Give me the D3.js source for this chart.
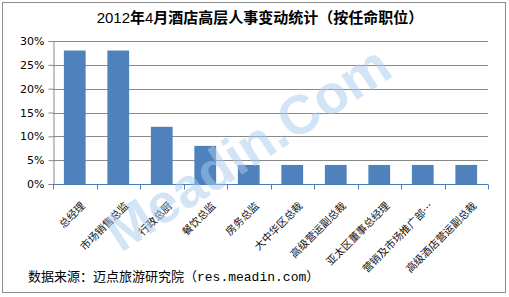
<!DOCTYPE html>
<html>
<head>
<meta charset="utf-8">
<script src="https://cdn.jsdelivr.net/npm/d3@7"></script>
<style>
  body { margin: 0; background: #fff; }
  svg text { font-family: "Noto Sans CJK SC", "DejaVu Sans", sans-serif; }
</style>
</head>
<body>
<div id="viz"></div>
<script>
var categories = ['总经理', '市场销售总监', '行政总厨', '餐饮总监', '房务总监',
  '大中华区总裁', '高级营运副总裁', '亚太区董事总经理', '营销及市场推广部…', '高级酒店营运副总裁'];
var shares = [0.28, 0.28, 0.12, 0.08, 0.04, 0.04, 0.04, 0.04, 0.04, 0.04];
var yTicks = [0, 0.05, 0.10, 0.15, 0.20, 0.25, 0.30];

var W = 509, H = 297;
var margin = { top: 41, right: 21, bottom: 113, left: 53 },
  width = W - margin.left - margin.right,
  height = H - margin.top - margin.bottom;

var svg = d3.select('#viz').append('svg')
  .attr('width', W)
  .attr('height', H);

// outer frame
svg.append('rect')
  .attr('x', 2.5).attr('y', 2.5)
  .attr('width', W - 6).attr('height', H - 7)
  .attr('fill', 'none')
  .attr('stroke', '#8c8c8c');

// title: digits light, chinese bold
var t = svg.append('text')
  .attr('x', 260).attr('y', 23)
  .attr('text-anchor', 'middle')
  .attr('font-size', 15)
  .attr('fill', '#000');
[['2012', 'normal'], ['年', 'bold'], ['4', 'normal'], ['月酒店高层人事变动统计（按任命职位）', 'bold']]
  .forEach(function (p) {
    var sp = t.append('tspan').attr('font-weight', p[1]).text(p[0]);
    if (p[1] == 'normal') sp.style('font-family', '"Liberation Sans", sans-serif');
  });

var g = svg.append('g')
  .attr('transform', 'translate(' + margin.left + ',' + margin.top + ')');

var yScale = d3.scaleLinear().domain([0, 0.3]).range([height, 0]);
var xScale = d3.scaleBand().domain(categories).range([0, width])
  .paddingInner(0.5).paddingOuter(0.25);

// gridlines
g.selectAll('.grid').data(yTicks.slice(1))
  .enter().append('line')
  .attr('x1', 0).attr('x2', width)
  .attr('y1', function (d) { return Math.round(yScale(d)) + 0.5; })
  .attr('y2', function (d) { return Math.round(yScale(d)) + 0.5; })
  .attr('stroke', '#888')
  .attr('stroke-width', 1);

// bars
g.selectAll('rect.bar').data(shares)
  .enter().append('rect')
  .attr('class', 'bar')
  .attr('fill', '#4f81bd')
  .attr('x', function (d, i) { return xScale(categories[i]); })
  .attr('width', xScale.bandwidth())
  .attr('y', function (d) { return yScale(d); })
  .attr('height', function (d) { return height - yScale(d); });

// y axis
var yAxis = d3.axisLeft(yScale)
  .tickValues(yTicks)
  .tickSize(5)
  .tickPadding(4)
  .tickFormat(d3.format('.0%'));
var yG = g.append('g').attr('transform', 'translate(0.5,0)').call(yAxis);
yG.selectAll('path, line').attr('stroke', '#888');
yG.selectAll('text').attr('font-size', 11).attr('fill', '#000')
  .style('font-family', '"DejaVu Sans", sans-serif');

// x axis, ticks at category boundaries
var boundaries = d3.range(categories.length + 1);
var xG = g.append('g').attr('transform', 'translate(0,' + (height + 0.5) + ')');
xG.append('line')
  .attr('x1', 0).attr('x2', width)
  .attr('stroke', '#4a7ebb');
xG.selectAll('.tick').data(boundaries)
  .enter().append('line')
  .attr('x1', function (d) { return Math.round(d * width / categories.length) + 0.5; })
  .attr('x2', function (d) { return Math.round(d * width / categories.length) + 0.5; })
  .attr('y1', 0).attr('y2', 5)
  .attr('stroke', '#4a7ebb');
xG.selectAll('text.lab').data(categories)
  .enter().append('text')
  .attr('class', 'lab')
  .attr('font-size', 10.5)
  .attr('fill', '#111')
  .attr('text-anchor', 'end')
  .attr('transform', function (d) {
    var cx = xScale(d) + xScale.bandwidth() / 2 + 11;
    return 'translate(' + cx + ',22) rotate(-45)';
  })
  .text(function (d) { return d; });

// watermark
svg.append('text')
  .attr('transform', 'translate(250,152) rotate(-33)')
  .attr('text-anchor', 'middle')
  .attr('dominant-baseline', 'middle')
  .attr('font-size', 55)
  .attr('font-weight', 'bold')
  .attr('fill', '#a9cbf0')
  .attr('opacity', 0.5)
  .style('font-family', '"Liberation Sans", Arial, sans-serif')
  .text('Meadin.Com');

// source line
var s = svg.append('text')
  .attr('x', 28).attr('y', 281)
  .attr('font-size', 13)
  .attr('fill', '#000');
s.append('tspan').text('数据来源：迈点旅游研究院（');
s.append('tspan').style('font-family', '"Liberation Mono", "DejaVu Sans Mono", monospace')
  .text('res.meadin.com');
s.append('tspan').text('）');
</script>
</body>
</html>
